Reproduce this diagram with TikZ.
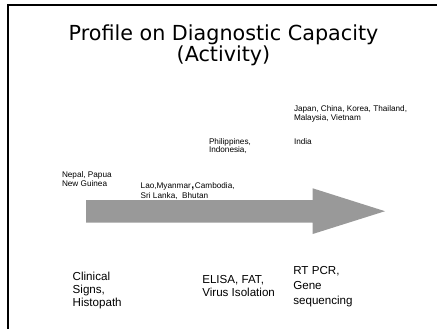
\documentclass[tikz,border=0pt]{standalone}
\usepackage{fontspec}
\setmainfont{Liberation Sans}
\newfontfamily\titlefont{DejaVu Sans}
\definecolor{arrowgray}{RGB}{153,153,153}
\tikzset{smalltext/.style={font=\fontsize{8.2}{9}\selectfont,align=left,anchor=north west,inner sep=0,outer sep=0},
  bigtext/.style={font=\fontsize{11.6}{13.3}\selectfont,align=left,anchor=north west,inner sep=0,outer sep=0}}

\begin{document}
\begin{tikzpicture}[x=1pt,y=-1pt]
 \useasboundingbox (0,0) rectangle (437,329);
 \draw[line width=1.8pt] (7.7,329) -- (7.7,5) -- (437,5);
 \node[font=\titlefont\fontsize{20.7}{19}\selectfont,align=center,anchor=north,inner sep=0] (title) at (223.5,24.5) {Profile on Diagnostic Capacity\\(Activity)};
 % big arrow
 \coordinate (t1) at (86,200);
 \coordinate (t2) at (312.7,200);
 \coordinate (h1) at (312.7,188.3);
 \coordinate (tip) at (385,211.2);
 \coordinate (h2) at (312.7,234);
 \coordinate (t3) at (312.7,222.5);
 \coordinate (t4) at (86,222.5);
 \fill[arrowgray] (t1) -- (t2) -- (h1) -- (tip) -- (h2) -- (t3) -- (t4) -- cycle;
 % countries
 \node[smalltext] (japan) at (294,106) {Japan, China, Korea, Thailand,\\Malaysia, Vietnam};
 \node[smalltext] (india) at (294,138.3) {India};
 \node[smalltext,font=\fontsize{8.2}{8}\selectfont] (phil) at (209,138.3) {Philippines,\\Indonesia,};
 \node[smalltext] (nepal) at (62,171.5) {Nepal, Papua\\New Guinea};
 \node[smalltext,font=\fontsize{8.2}{10}\selectfont] (lao) at (140.7,183) {Lao,Myanmar\hspace{0.6pt}{\bfseries\fontsize{10.5}{10}\selectfont,}\hspace{0.6pt}Cambodia,\\Sri Lanka,\ \ Bhutan};
 % methods
 \node[bigtext] (clinical) at (72.7,271.7) {Clinical\\Signs,\\Histopath};
 \node[bigtext,font=\fontsize{11.6}{12.3}\selectfont] (elisa) at (202.3,275.7) {ELISA, FAT,\\Virus Isolation};
 \node[bigtext,font=\fontsize{11.6}{15}\selectfont] (rtpcr) at (293.3,266.7) {RT PCR,\\Gene\\sequencing};
\end{tikzpicture}
\end{document}
